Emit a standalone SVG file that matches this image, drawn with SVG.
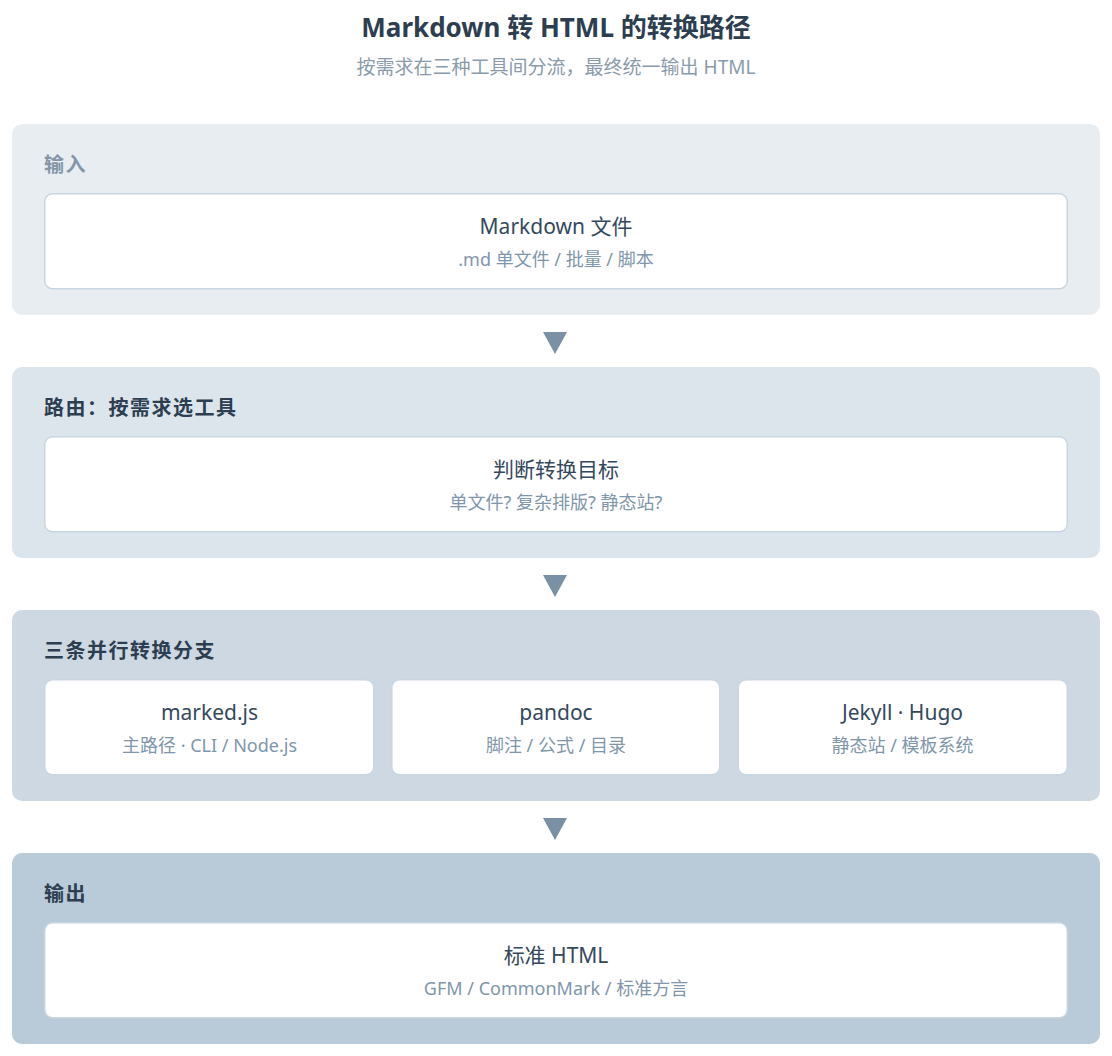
<svg xmlns="http://www.w3.org/2000/svg" width="1112" height="1056" viewBox="0 0 1112 1056">
<style>
text{font-family:"Noto Sans","Noto Sans CJK SC",sans-serif}
.title{font-size:26px;font-weight:700;fill:#2c3e50;text-anchor:middle}
.subtitle{font-size:19px;fill:#8a9bab;text-anchor:middle}
.sec{font-size:20px;font-weight:700;fill:#2c3e50;letter-spacing:1.5px}
.sec.muted{fill:#8395a7}
.box{fill:#ffffff;stroke:#c9d6e2;stroke-width:1.5}
.nt{font-size:21px;fill:#34495e;text-anchor:middle}
.ns{font-size:18px;fill:#8096ab;text-anchor:middle}
.arrow{fill:#7a90a4}
</style>
<rect width="1112" height="1056" fill="#ffffff"/>
<text class="title" x="556" y="37">Markdown 转 HTML 的转换路径</text>
<text class="subtitle" x="556" y="74">按需求在三种工具间分流，最终统一输出 HTML</text>

<g id="stage-input">
<rect x="12" y="124" width="1088" height="191" rx="10" fill="#e8edf2"/>
<text class="sec muted" x="44" y="172">输入</text>
<g id="node-md">
<rect class="box" x="44.75" y="193.75" width="1022.5" height="95" rx="8"/>
<text class="nt" x="556" y="234">Markdown 文件</text>
<text class="ns" x="556" y="266">.md 单文件 / 批量 / 脚本</text>
</g>
</g>

<g id="stage-route">
<rect x="12" y="367" width="1088" height="191" rx="10" fill="#dde5ec"/>
<text class="sec" x="44" y="415">路由：按需求选工具</text>
<g id="node-judge">
<rect class="box" x="44.75" y="436.75" width="1022.5" height="95" rx="8"/>
<text class="nt" x="556" y="477">判断转换目标</text>
<text class="ns" x="556" y="509">单文件? 复杂排版? 静态站?</text>
</g>
</g>

<g id="stage-branches">
<rect x="12" y="610" width="1088" height="191" rx="10" fill="#cdd8e2"/>
<text class="sec" x="44" y="658">三条并行转换分支</text>
<g id="node-marked">
<rect class="box" x="44.75" y="679.75" width="329" height="95" rx="8"/>
<text class="nt" x="209.5" y="720">marked.js</text>
<text class="ns" x="209.5" y="752">主路径 · CLI / Node.js</text>
</g>
<g id="node-pandoc">
<rect class="box" x="391.75" y="679.75" width="328" height="95" rx="8"/>
<text class="nt" x="556" y="720">pandoc</text>
<text class="ns" x="556" y="752">脚注 / 公式 / 目录</text>
</g>
<g id="node-ssg">
<rect class="box" x="738.25" y="679.75" width="329" height="95" rx="8"/>
<text class="nt" x="902.5" y="720">Jekyll · Hugo</text>
<text class="ns" x="902.5" y="752">静态站 / 模板系统</text>
</g>
</g>

<g id="stage-output">
<rect x="12" y="853" width="1088" height="191" rx="10" fill="#b9cad8"/>
<text class="sec" x="44" y="901">输出</text>
<g id="node-html">
<rect class="box" x="44.75" y="922.75" width="1022.5" height="95" rx="8"/>
<text class="nt" x="556" y="963">标准 HTML</text>
<text class="ns" x="556" y="995">GFM / CommonMark / 标准方言</text>
</g>
</g>

<g id="connectors">
<polygon class="arrow" points="543,332 567,332 555,354"/>
<polygon class="arrow" points="543,575 567,575 555,597"/>
<polygon class="arrow" points="543,818 567,818 555,840"/>
</g>
</svg>
